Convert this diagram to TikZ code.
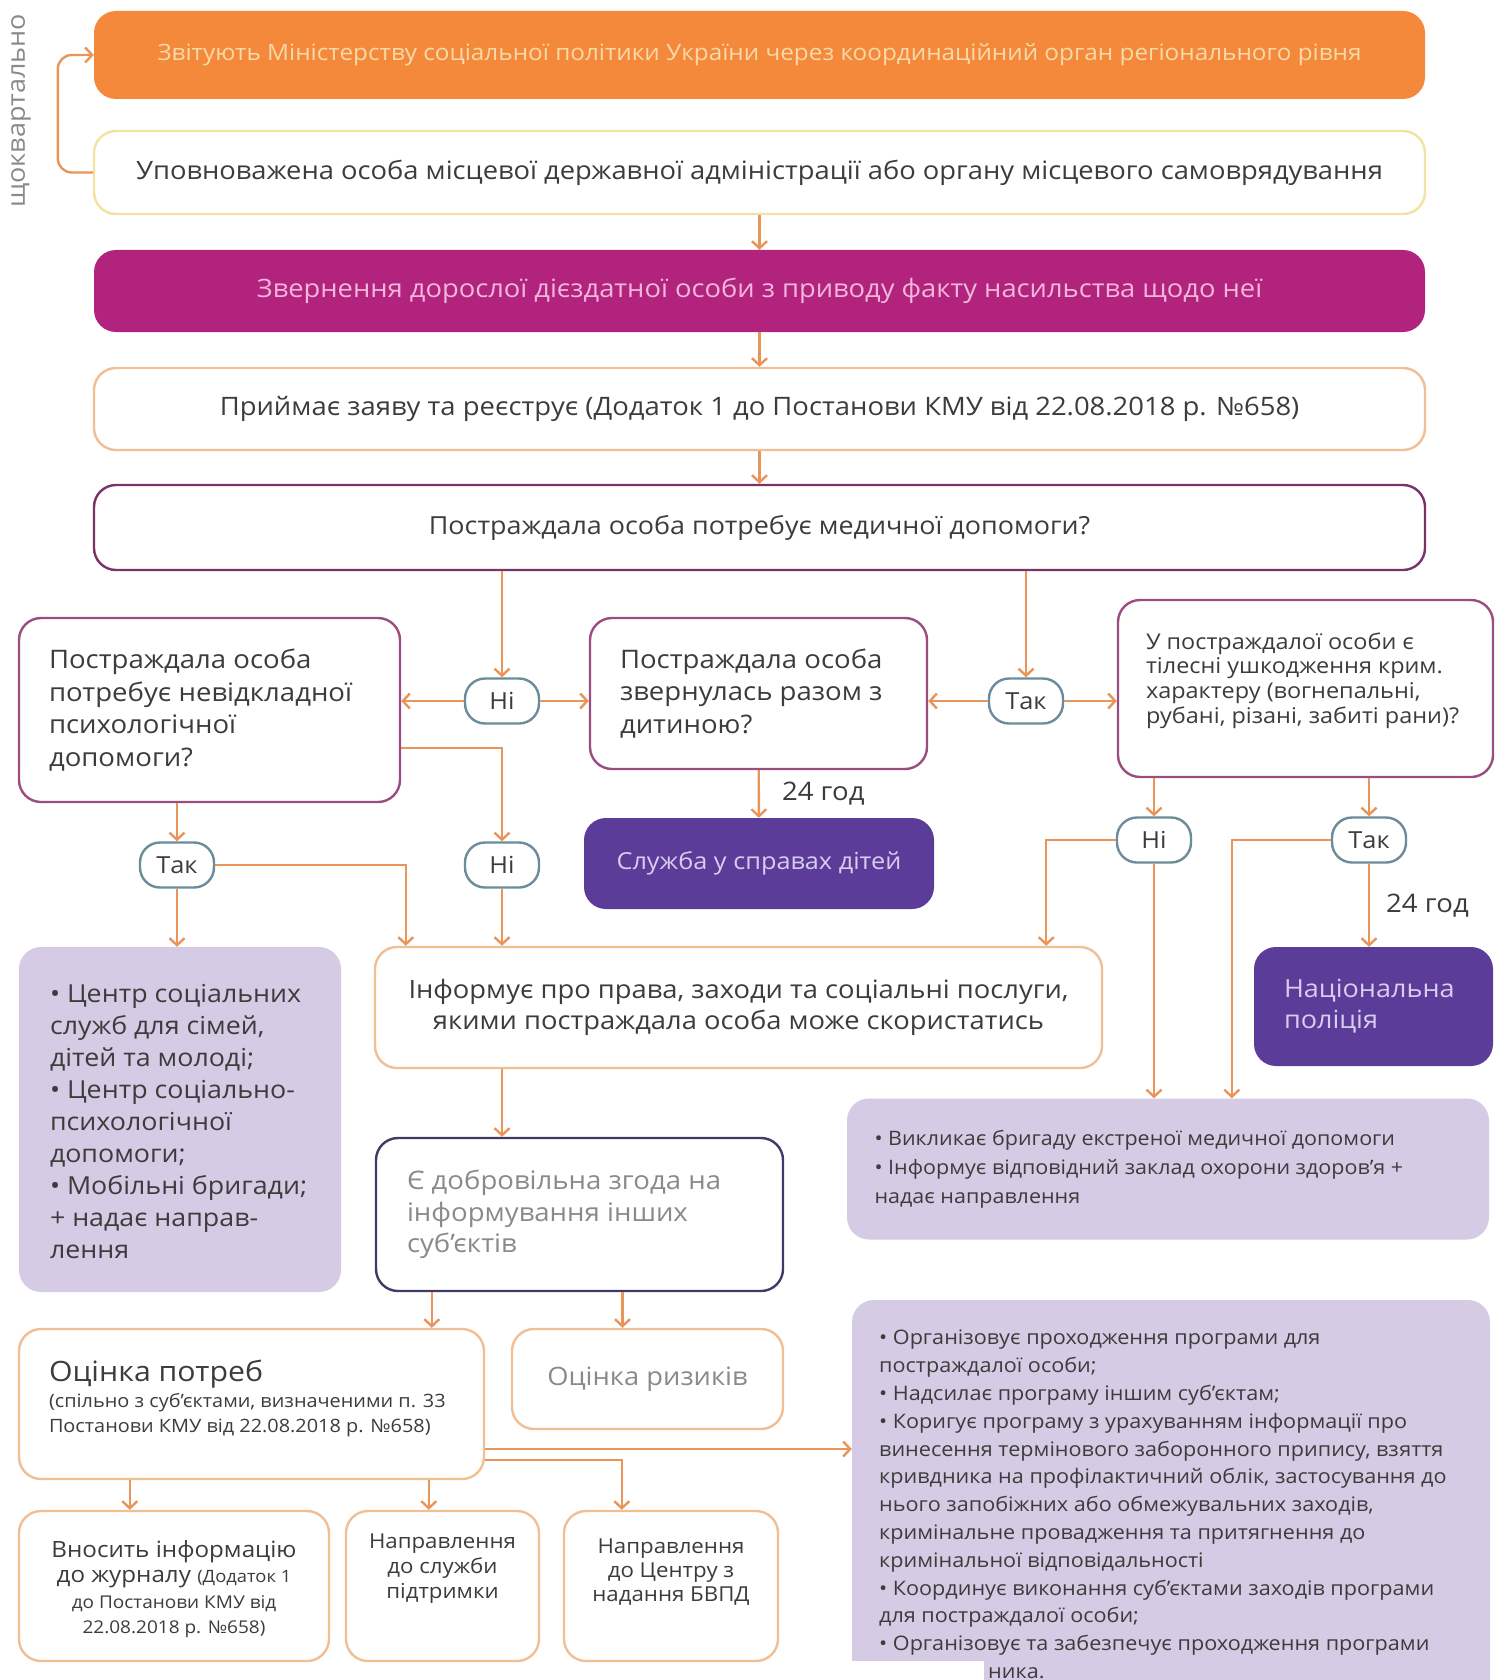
\documentclass[tikz,border=0pt]{standalone}
\usepackage{fontspec}
\setmainfont[FakeStretch=1.08]{Open Sans}
\usepackage{tikz}
\usetikzlibrary{calc}
\usetikzlibrary{arrows.meta}
\usetikzlibrary{positioning}

\definecolor{orng}{HTML}{F5893B}
\definecolor{lineor}{HTML}{E9955A}
\definecolor{yelb}{HTML}{F4E2A1}
\definecolor{lorng}{HTML}{F2BE93}
\definecolor{darkm}{HTML}{7A3366}
\definecolor{mauve}{HTML}{9B4D80}
\definecolor{magn}{HTML}{B2237E}
\definecolor{purp}{HTML}{5C3C99}
\definecolor{lav}{HTML}{D6CBE4}
\definecolor{navy}{HTML}{3F3B66}
\definecolor{ovalc}{HTML}{6B8C9A}
\definecolor{txt}{HTML}{3C3C3C}
\definecolor{grey}{HTML}{8A8A8A}
\definecolor{paleyel}{HTML}{F8D9A8}
\definecolor{pinktxt}{HTML}{F2B6DB}
\definecolor{lavtxt}{HTML}{D8CDEE}

\newcommand{\fsz}[2]{\fontsize{#1}{#2}\selectfont}
\newcommand{\answer}[4]{\node[ans] (#1) at (#2,#3) {#4};}

\tikzset{
  conn/.style={draw=lineor, line width=2.4pt, -{Straight Barb[length=7pt,width=15pt]}},
  box/.style={rectangle, rounded corners=22pt, line width=2.4pt, fill=white, inner sep=0pt, text=txt},
  fillbox/.style={rectangle, rounded corners=22pt, draw=none, inner sep=0pt},
  txtl/.style={align=left, inner sep=0pt, text=txt},
  lbl/.style={inner sep=0pt, text=txt, font=\fsz{25.5}{28}},
  ans/.style={rectangle, draw=ovalc, fill=white, line width=2.4pt, rounded corners=20pt,
    minimum width=74pt, minimum height=45pt, inner sep=0pt, text=txt, font=\fsz{23.5}{28}},
}

\begin{document}
\begin{tikzpicture}[x=1pt,y=-1pt]
\fill[white] (0,0) rectangle (1495,1680);
\useasboundingbox (0,0) rectangle (1495,1680);

% top rows
\node[fillbox, fill=orng, minimum width=1331pt, minimum height=88pt, text=paleyel, font=\fsz{22.5}{26}] (ministry) at (759.5,55) {Звітують Міністерству соціальної політики України через координаційний орган регіонального рівня};
\node[box, draw=yelb, minimum width=1331pt, minimum height=83pt, font=\fsz{25.3}{28}] (auth) at (759.5,172.5) {Уповноважена особа місцевої державної адміністрації або органу місцевого самоврядування};
\node[rotate=90, inner sep=0pt, text=grey, font=\fsz{25}{28}] (quart) at (21,111) {щоквартально};
\draw[conn, rounded corners=14pt] (auth.west) -- ++(-35,0) |- (ministry.west);

\node[fillbox, fill=magn, minimum width=1331pt, minimum height=82pt, text=pinktxt, font=\fsz{25.3}{28}] (appeal) at (759.5,291) {Звернення дорослої дієздатної особи з приводу факту насильства щодо неї};
\node[box, draw=lorng, minimum width=1331pt, minimum height=82pt, font=\fsz{25.4}{28}] (accept) at (759.5,409) {Приймає заяву та реєструє (Додаток 1 до Постанови КМУ від 22.08.2018 р. №658)};
\node[box, draw=darkm, minimum width=1331pt, minimum height=85pt, font=\fsz{24.9}{28}] (medq) at (759.5,527.5) {Постраждала особа потребує медичної допомоги?};

\draw[conn] (auth) -- (appeal);
\draw[conn] (appeal) -- (accept);
\draw[conn] (accept) -- (medq);

% questions
\node[box, draw=mauve, minimum width=381pt, minimum height=184pt] (psy) at (209.5,710) {};
\node[txtl, anchor=west, font=\fsz{25.5}{32.5}] (psytxt) at ($(psy.west)+(31,0)$) {Постраждала особа\\потребує невідкладної\\психологічної\\допомоги?};
\node[box, draw=mauve, minimum width=337pt, minimum height=151pt] (child) at (758.5,693.5) {};
\node[txtl, anchor=west, font=\fsz{25.5}{32.5}] (childtxt) at ($(child.west)+(31,0)$) {Постраждала особа\\звернулась разом з\\дитиною?};
\node[box, draw=mauve, minimum width=375pt, minimum height=177pt] (injury) at (1305.5,688.5) {};
\node[txtl, anchor=west, font=\fsz{21.7}{24.8}] (injurytxt) at ($(injury.west)+(29,-8)$) {У постраждалої особи є\\тілесні ушкодження крим.\\характеру (вогнепальні,\\рубані, різані, забиті рани)?};

\answer{noA}{502}{701}{Ні}
\answer{yesA}{1026}{701}{Так}
\answer{yesB}{177}{865}{Так}
\answer{noB}{502}{865}{Ні}
\answer{noC}{1154}{840}{Ні}
\answer{yesC}{1369}{840}{Так}

\draw[conn] (noA |- medq.south) -- (noA);
\draw[conn] (noA) -- (noA -| psy.east);
\draw[conn] (noA) -- (noA -| child.west);
\draw[conn] (yesA |- medq.south) -- (yesA);
\draw[conn] (yesA) -- (yesA -| child.east);
\draw[conn] (yesA) -- (yesA -| injury.west);

% services
\node[fillbox, fill=purp, minimum width=350pt, minimum height=91pt, text=lavtxt, font=\fsz{23.4}{26}] (service) at (759,863.5) {Служба у справах дітей};
\node[fillbox, fill=purp, minimum width=239pt, minimum height=119pt] (police) at (1373.5,1006.5) {};
\node[txtl, anchor=west, text=lavtxt, font=\fsz{25}{31}] (policetxt) at ($(police.west)+(30,0)$) {Національна\\поліція};
\node[box, draw=lorng, minimum width=727pt, minimum height=121pt, align=center, font=\fsz{25.3}{31}] (inform) at (738.5,1007.5) {Інформує про права, заходи та соціальні послуги,\\якими постраждала особа може скористатись};
\node[fillbox, fill=lav, minimum width=322pt, minimum height=345pt] (groups) at (180,1119.5) {};
\node[txtl, anchor=west, font=\fsz{24.8}{32}] (groupstxt) at ($(groups.west)+(31,2)$) {• Центр соціальних\\служб для сімей,\\дітей та молоді;\\• Центр соціально-\\психологічної\\допомоги;\\• Мобільні бригади;\\+ надає направ-\\лення};
\node[fillbox, fill=lav, minimum width=642pt, minimum height=141pt] (medical) at (1168,1169) {};
\node[txtl, anchor=west, font=\fsz{19.9}{29}] (medicaltxt) at ($(medical.west)+(27.5,0)$) {• Викликає бригаду екстреної медичної допомоги\\• Інформує відповідний заклад охорони здоров’я +\\надає направлення};

\draw[conn] (yesB |- psy.south) -- (yesB);
\draw[conn] (yesB) -- (yesB |- groups.north);
\draw[conn] (yesB) -| ($(inform.north west)+(32,0)$);
\draw[conn] ($(psy.east)+(0,38)$) -| (noB);
\draw[conn] (noB) -- (noB |- inform.north);
\draw[conn] (child) -- (service) node[midway, right=22pt, lbl] (hoursA) {24 год};
\draw[conn] (noC |- injury.south) -- (noC);
\draw[conn] (noC) -| ($(inform.north east)+(-57,0)$);
\draw[conn] (noC) -- (noC |- medical.north);
\draw[conn] (yesC |- injury.south) -- (yesC);
\draw[conn] (yesC) -| ($(medical.north west)+(385,0)$);
\draw[conn] (yesC) -- (yesC |- police.north) node[midway, right=16pt, lbl] (hoursB) {24 год};

% consent and assessment
\node[box, draw=navy, minimum width=407pt, minimum height=153pt] (consent) at (579.5,1214.5) {};
\node[txtl, anchor=west, text=grey, font=\fsz{25.5}{31.5}] (consenttxt) at ($(consent.west)+(32,0)$) {Є добровільна згода на\\інформування інших\\суб’єктів};
\draw[conn] (noB |- inform.south) -- (noB |- consent.north);

\node[box, draw=lorng, minimum width=465pt, minimum height=150pt] (needs) at (251.5,1404) {};
\node[txtl, anchor=west, font=\fsz{28}{30}] (needsttl) at ($(needs.west)+(31,-30)$) {Оцінка потреб};
\node[txtl, anchor=west, font=\fsz{18.4}{25.5}] (needssub) at ($(needs.west)+(31,11)$) {(спільно з суб’єктами, визначеними п. 33\\Постанови КМУ від 22.08.2018 р. №658)};
\node[box, draw=lorng, minimum width=271pt, minimum height=100pt, text=grey, font=\fsz{25.3}{28}] (risks) at (647.5,1379) {Оцінка ризиків};

\draw[conn] ($(consent.south west)+(57,0)$) coordinate (cA) -- (cA |- needs.north);
\draw[conn] (cA -| risks.north) ++(-25,0) coordinate (cB) (cB |- consent.south) -- (cB |- risks.north);

% bottom row
\node[box, draw=lorng, minimum width=310pt, minimum height=150pt] (journal) at (174,1586) {};
\node[align=center, inner sep=0pt, text=txt, font=\fsz{22.4}{25.5}] (journaltxt) at ($(journal.center)+(0,3)$) {Вносить інформацію\\до журналу {\fsz{17}{25.5}(Додаток 1}\\{\fsz{17.6}{25.5}до Постанови КМУ від}\\{\fsz{17.6}{25.5}22.08.2018 р. №658)}};
\node[box, draw=lorng, minimum width=193pt, minimum height=150pt] (support) at (442.5,1586) {};
\node[align=center, inner sep=0pt, text=txt, font=\fsz{20.6}{25}] (supporttxt) at ($(support.center)+(0,-17)$) {Направлення\\до служби\\підтримки};
\node[box, draw=lorng, minimum width=214pt, minimum height=150pt] (bvpd) at (671,1586) {};
\node[align=center, inner sep=0pt, text=txt, font=\fsz{20.6}{24}] (bvpdtxt) at ($(bvpd.center)+(0,-14)$) {Направлення\\до Центру з\\надання БВПД};

\node[fillbox, fill=lav, minimum width=638pt, minimum height=420pt] (prog) at (1171,1510) {};
\node[txtl, anchor=north west, font=\fsz{20}{27.8}] (progtxt) at (879,1330) {• Організовує проходження програми для\\постраждалої особи;\\• Надсилає програму іншим суб’єктам;\\• Коригує програму з урахуванням інформації про\\винесення термінового заборонного припису, взяття\\кривдника на профілактичний облік, застосування до\\нього запобіжних або обмежувальних заходів,\\кримінальне провадження та притягнення до\\кримінальної відповідальності\\• Координує виконання суб’єктами заходів програми\\для постраждалої особи;\\• Організовує та забезпечує проходження програми};
\fill[white] (847,1661) rectangle (984,1685);
\node[txtl, anchor=west, font=\fsz{20}{27.8}] (progend) at (988,1673) {ника.};

\draw[conn] ($(needs.east)+(0,45)$) coordinate (cC) -- (cC -| prog.west);
\draw[conn] ($(needs.east)+(0,56)$) -| ($(bvpd.north west)+(59,0)$);
\draw[conn] ($(needs.south west)+(112,0)$) coordinate (cD) -- (cD |- journal.north);
\draw[conn] ($(needs.south west)+(411,0)$) coordinate (cE) -- (cE |- support.north);

\end{tikzpicture}
\end{document}
